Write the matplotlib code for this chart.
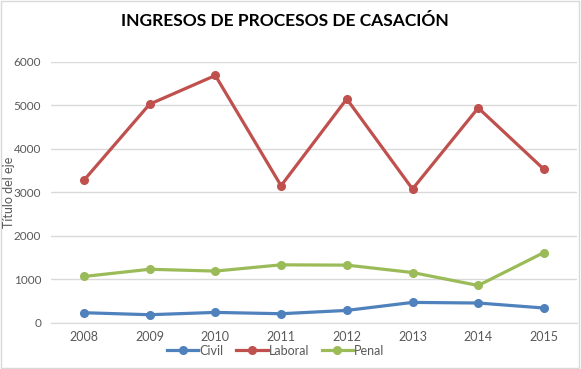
import matplotlib
matplotlib.use('Agg')
import matplotlib.pyplot as plt
from matplotlib.patches import Rectangle

years = ['2008', '2009', '2010', '2011', '2012', '2013', '2014', '2015']
civil = [236, 190, 243, 213, 289, 473, 459, 344]
laboral = [3280, 5030, 5690, 3156, 5151, 3080, 4945, 3532]
penal = [1069, 1235, 1193, 1337, 1330, 1160, 862, 1620]

plt.rcParams['font.family'] = ['Lato', 'DejaVu Sans']

fig = plt.figure(figsize=(5.81, 3.69), dpi=100)
ax = fig.add_axes([0.0878, 0.1247, 0.905, 0.7073])

x = range(len(years))
ax.plot(x, civil, color='#4F81BD', lw=2.3, marker='o', ms=5.5, label='Civil')
ax.plot(x, laboral, color='#C0504D', lw=2.3, marker='o', ms=5.5, label='Laboral')
ax.plot(x, penal, color='#9BBB59', lw=2.3, marker='o', ms=5.5, label='Penal')

ax.set_xlim(-0.5, len(years) - 0.5)
ax.set_ylim(0, 6000)
ax.set_yticks(range(0, 6001, 1000))
ax.set_xticks(list(x))
ax.set_xticklabels(years)
ax.grid(axis='y', color='#d9d9d9', lw=1)
ax.set_axisbelow(True)
for s in ['top', 'right', 'left']:
    ax.spines[s].set_visible(False)
ax.spines['bottom'].set_color('#d9d9d9')
ax.tick_params(length=0, colors='#595959', labelsize=8.5)
ax.tick_params(axis='x', pad=6, labelsize=9)
ax.tick_params(axis='y', pad=7)

fig.text(0.015, 0.48, 'Título del eje', rotation=90, fontsize=9, color='#595959',
         ha='center', va='center')

fig.suptitle('INGRESOS DE PROCESOS DE CASACIÓN', x=0.49, y=0.965, fontsize=12.5, fontweight='bold')

handles, labels = ax.get_legend_handles_labels()
fig.legend(handles, labels, loc='center', bbox_to_anchor=(0.475, 0.05), ncol=3, frameon=False,
           fontsize=9, labelcolor='#595959', handlelength=2.5, handletextpad=0.1,
           columnspacing=1.0, borderaxespad=0, borderpad=0)

fig.patches.append(Rectangle((0.002, 0.003), 0.995, 0.994, transform=fig.transFigure,
                             fill=False, edgecolor='#d9d9d9', lw=1))

plt.savefig('out.png', dpi=100)
plt.close()
